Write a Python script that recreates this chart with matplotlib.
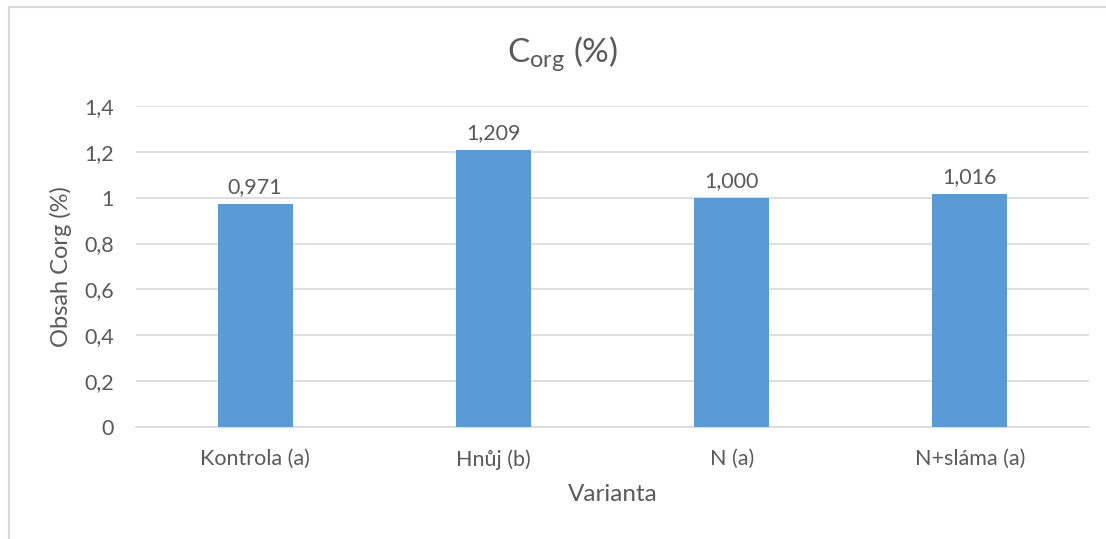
import matplotlib.pyplot as plt
from matplotlib.lines import Line2D

# data
categories = ['Kontrola (a)', 'Hnůj (b)', 'N (a)', 'N+sláma (a)']
corg_values = [0.971, 1.209, 1.000, 1.016]
y_ticks = [0, 0.2, 0.4, 0.6, 0.8, 1.0, 1.2, 1.4]

plt.rcParams['font.family'] = ['Lato', 'DejaVu Sans']
text_col = '#595959'
grid_col = '#D9D9D9'
bar_col = '#5B9BD5'

W, H = 1106, 539
fig = plt.figure(figsize=(W / 100, H / 100), dpi=100)

# plot area in pixel coords
left, right, top, bottom = 136, 1089, 106, 427
ax = fig.add_axes([left / W, 1 - bottom / H, (right - left) / W, (bottom - top) / H])

x = list(range(len(categories)))
ax.bar(x, corg_values, width=0.315, color=bar_col, zorder=3)
for xi, v in zip(x, corg_values):
    ax.annotate(f'{v:.3f}'.replace('.', ','), (xi, v), xytext=(0, 5),
                textcoords='offset points', ha='center', va='bottom',
                fontsize=15.5, color=text_col)

ax.set_xlim(-0.5, len(categories) - 0.5)
ax.set_ylim(0, 1.4)
ax.set_yticks(y_ticks)
ax.set_yticklabels([f'{t:g}'.replace('.', ',') for t in y_ticks])
ax.set_xticks(x)
ax.set_xticklabels(categories)
ax.tick_params(axis='both', length=0, labelsize=15.5, labelcolor=text_col)
ax.tick_params(axis='y', pad=16)
ax.tick_params(axis='x', pad=16)
ax.yaxis.grid(True, color=grid_col, linewidth=1.2, zorder=0)
for s in ['top', 'right', 'left']:
    ax.spines[s].set_visible(False)
ax.spines['bottom'].set_color(grid_col)
ax.spines['bottom'].set_linewidth(1.2)

ax.set_xlabel('Varianta', fontsize=17.5, color=text_col, labelpad=10)
ax.set_ylabel('Obsah Corg (%)', fontsize=17, color=text_col, labelpad=9)

fig.text(563 / W, 1 - 54 / H, r'C$_{\mathregular{org}}$ (%)', ha='center', va='center',
         fontsize=24, color=text_col)

# chart border
fig.add_artist(Line2D([9 / W, 1.0], [1 - 7 / H, 1 - 7 / H], color=grid_col, linewidth=1.5,
                      transform=fig.transFigure))
fig.add_artist(Line2D([9 / W, 9 / W], [0, 1 - 7 / H], color=grid_col, linewidth=1.5,
                      transform=fig.transFigure))

fig.savefig('out.png', dpi=100)
